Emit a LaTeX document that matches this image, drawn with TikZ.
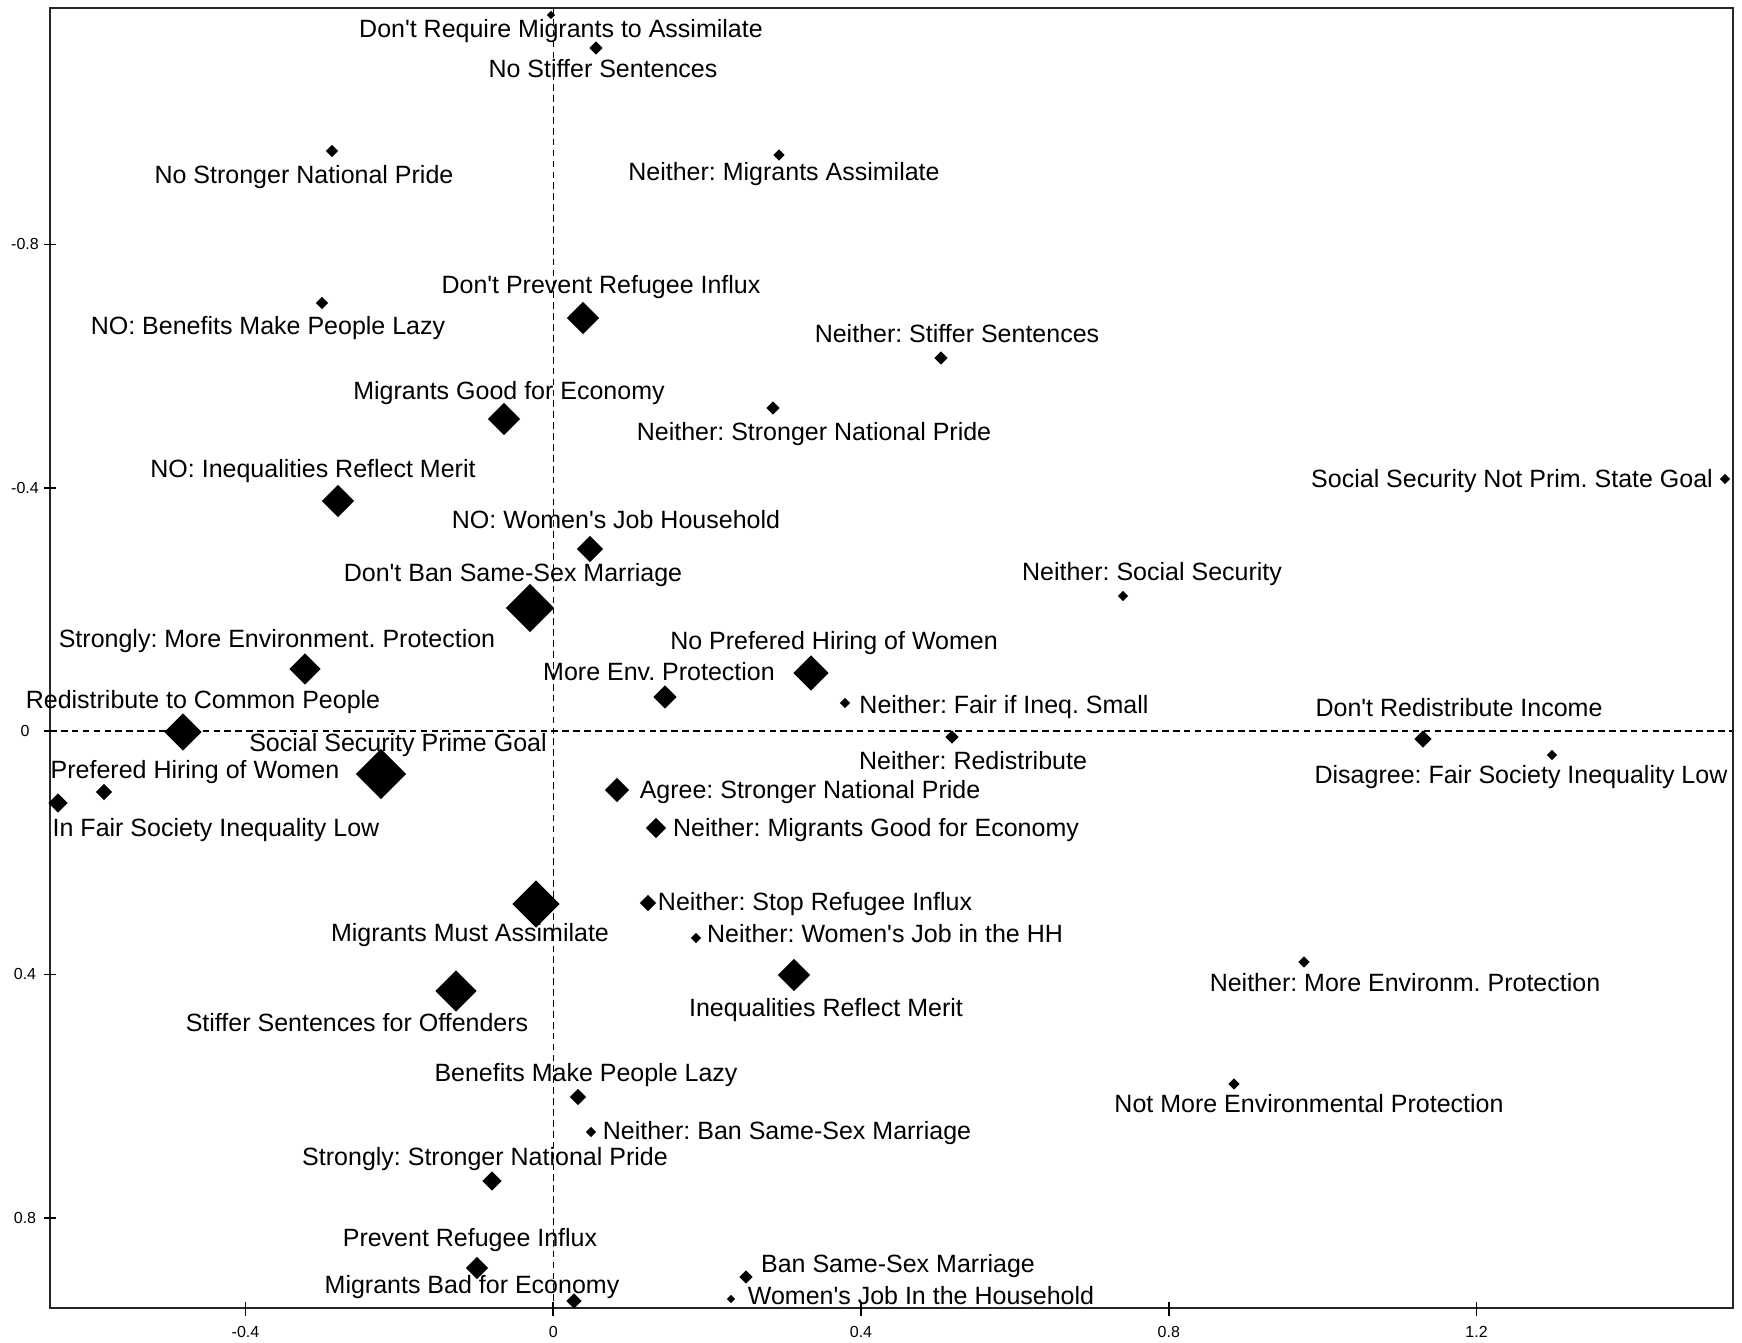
\documentclass[tikz,border=0pt]{standalone}
\usepackage{fontspec}
\newfontfamily\plotfont{Liberation Sans}
\usetikzlibrary{shapes.geometric}

\begin{document}
\frenchspacing
\begin{tikzpicture}[x=0.01cm, y=-0.01cm,
	dot/.style={diamond, fill=black, inner sep=0pt, minimum size=#1*0.01cm},
	lbl/.style={font=\plotfont\fontsize{7.11pt}{8.5pt}\selectfont\frenchspacing, inner sep=0pt, text height=5.3pt, text depth=0.3pt},
	ticklbl/.style={font=\plotfont\fontsize{4.55pt}{5pt}\selectfont, inner sep=0pt},
	refline/.style={dash pattern=on 1.9pt off 1.2pt, line width=0.4pt}]
\useasboundingbox (0,0) rectangle (1742,1343);

% zero lines
\draw[refline] (553.3,8) -- (553.3,1308);
\draw[refline] (50,731) -- (1733,731);

% frame and axes
\draw[line width=0.7pt, black!85] (50,8) rectangle (1733,1308);
\foreach \x/\t [count=\i] in {245.5/-0.4, 553.3/0, 861/0.4, 1168.8/0.8, 1476.6/1.2}{
	\draw[line width=0.5pt] (\x,1302) -- (\x,1316);
	\node[ticklbl] (xt\i) at (\x,1332) {\t};
}
\foreach \y/\t [count=\i] in {244.4/-0.8, 487.7/-0.4, 731/0, 974.4/0.4, 1218/0.8}{
	\draw[line width=0.5pt] (44,\y) -- (56,\y);
	\node[ticklbl] (yt\i) at (25,\y) {\t};
}

% categories
\foreach \n/\x/\y/\s in {
	drm/551/15/9, nss/596/48/14, nsnp/332/151/13, nma/779/155/12%
	,dpri/583/318/33, nobl/322/303/13, nsts/941/358/14, mge/504/419/33%
	,nnp/773/408/14, noim/338/501/33, ssnp/1725/479/11, nowj/590/549/27%
	,dbsm/530/608/49, nsec/1123/596/11, smep/305/669/32, nphw/811/673/36%
	,mep/665/697/24, nfis/845/703/11, rcp/183/732/38, dri/1423/739/18%
	,nred/952/737/14, sspg/381/774/51, phw/104/792/17, ifsl/58/803/20%
	,dfsl/1552/755/11, asnp/617/790/25, nmge/656/828/21, mma/536/904/48%
	,nsri/648/903/17, nwjh/696/938/11, irm/794/975/33, nmev/1304/962/12%
	,sso/456/991/42, bmpl/578/1097/17, nmep/1234/1084/12, nbsm/591/1132/11%
	,sstn/492/1181/20, pri/477/1268/23, mbe/574/1301/16, bssm/746/1277/14%
	,wjhh/731/1299/9%
}{
	\node[dot=\s] (\n) at (\x,\y) {};
}

\foreach \n/\x/\y/\t in {
	drm/561/29/Don't Require Migrants to Assimilate%
	,nss/603/69/No Stiffer Sentences%
	,nsnp/304/175/No Stronger National Pride%
	,nma/784/172/Neither: Migrants Assimilate%
	,dpri/601/285/Don't Prevent Refugee Influx%
	,nobl/268/326/NO: Benefits Make People Lazy%
	,nsts/957/334/Neither: Stiffer Sentences%
	,mge/509/391/Migrants Good for Economy%
	,nnp/814/432/Neither: Stronger National Pride%
	,noim/313/469/NO: Inequalities Reflect Merit%
	,ssnp/1512/479/Social Security Not Prim. State Goal%
	,nowj/616/520/NO: Women's Job Household%
	,dbsm/513/573/Don't Ban Same-Sex Marriage%
	,nsec/1152/572/Neither: Social Security%
	,smep/277/639/Strongly: More Environment. Protection%
	,nphw/834/641/No Prefered Hiring of Women%
	,mep/659/672/More Env. Protection%
	,nfis/1004/705/Neither: Fair if Ineq. Small%
	,rcp/203/700/Redistribute to Common People%
	,dri/1459/708/Don't Redistribute Income%
	,nred/973/761/Neither: Redistribute%
	,sspg/398/743/Social Security Prime Goal%
	,phw/195/770/Prefered Hiring of Women%
	,ifsl/216/828/In Fair Society Inequality Low%
	,dfsl/1521/775/Disagree: Fair Society Inequality Low%
	,asnp/810/790/Agree: Stronger National Pride%
	,nmge/876/828/Neither: Migrants Good for Economy%
	,mma/470/933/Migrants Must Assimilate%
	,nsri/815/902/Neither: Stop Refugee Influx%
	,nwjh/885/934/Neither: Women's Job in the HH%
	,irm/826/1008/Inequalities Reflect Merit%
	,nmev/1405/983/Neither: More Environm. Protection%
	,sso/357/1023/Stiffer Sentences for Offenders%
	,bmpl/586/1073/Benefits Make People Lazy%
	,nmep/1309/1104/Not More Environmental Protection%
	,nbsm/787/1131/Neither: Ban Same-Sex Marriage%
	,sstn/485/1157/Strongly: Stronger National Pride%
	,pri/470/1238/Prevent Refugee Influx%
	,mbe/472/1285/Migrants Bad for Economy%
	,bssm/898/1264/Ban Same-Sex Marriage%
	,wjhh/921/1296/Women's Job In the Household%
}{
	\node[lbl] (\n-l) at (\x,\y) {\t};
}
\end{tikzpicture}
\end{document}
